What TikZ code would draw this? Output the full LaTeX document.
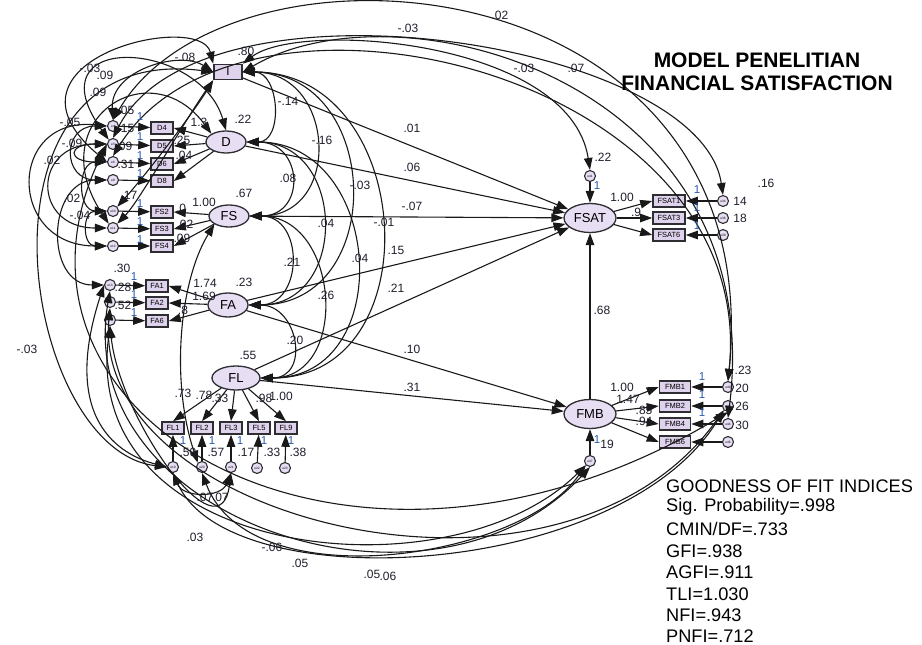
\documentclass[tikz,border=0pt]{standalone}
\usepackage{fontspec}
\setmainfont{Liberation Sans}
\usetikzlibrary{shapes.geometric,arrows.meta}
\definecolor{latfill}{RGB}{232,222,244}
\definecolor{obsfill}{RGB}{222,210,236}
\definecolor{labcol}{RGB}{30,30,45}
\definecolor{onecol}{RGB}{40,90,175}
\definecolor{framecol}{RGB}{45,45,50}
\tikzset{
  lat/.style={ellipse,draw=framecol,line width=1.3pt,fill=latfill,inner sep=0pt,font=\fontsize{13}{13}\selectfont},
  obs/.style={rectangle,draw=framecol,line width=1.6pt,fill=obsfill,inner sep=0pt,minimum width=22pt,minimum height=12pt,font=\fontsize{7.5}{7.5}\selectfont},
  err/.style={circle,draw=framecol,line width=1.1pt,fill=latfill,inner sep=0pt,minimum size=11pt,font=\fontsize{3.2}{3.2}\selectfont},
  tip/.tip={Triangle[length=12pt,width=8.5pt]},
  reg/.style={-tip,line width=1.1pt,draw=black!90},
  cov/.style={tip-tip,line width=1.1pt,draw=black!90},
  lab/.style={inner sep=0pt,text=labcol,font=\fontsize{12}{12}\selectfont},
  one/.style={inner sep=0pt,text=onecol,font=\fontsize{11.5}{11.5}\selectfont},
  gof/.style={inner sep=0pt,anchor=west,text=black,font=\fontsize{18.2}{18.2}\selectfont},
  ttl/.style={inner sep=0pt,text=black,font=\fontsize{21}{21}\selectfont\bfseries}
}
\begin{document}
\begin{tikzpicture}[x=1pt,y=-1pt]
\useasboundingbox (0,0) rectangle (922,645);
% ---------- latent / observed core nodes
\node[obs,minimum width=28pt,minimum height=15pt,font=\fontsize{11.5}{11.5}\selectfont] (I) at (228,72) {I};
\node[lat,minimum width=40pt,minimum height=22pt] (D) at (226,142) {D};
\node[lat,minimum width=40pt,minimum height=22pt] (FS) at (229,216) {FS};
\node[lat,minimum width=40pt,minimum height=24pt] (FA) at (228,305) {FA};
\node[lat,minimum width=48pt,minimum height=24pt] (FL) at (236,378) {FL};
\node[lat,minimum width=52pt,minimum height=29pt] (FSAT) at (590,218) {FSAT};
\node[lat,minimum width=52pt,minimum height=29pt] (FMB) at (590,414) {FMB};
% ---------- indicators
\node[obs] (D4) at (162,128) {D4};
\node[obs] (D5) at (162,146) {D5};
\node[obs] (D6) at (162,164) {D6};
\node[obs] (D8) at (162,181) {D8};
\node[obs] (FS2) at (162,212) {FS2};
\node[obs] (FS3) at (162,229) {FS3};
\node[obs] (FS4) at (162,246) {FS4};
\node[obs] (FA1) at (157,286) {FA1};
\node[obs] (FA2) at (157,303) {FA2};
\node[obs] (FA6) at (157,321) {FA6};
\node[obs] (FL1) at (173,428) {FL1};
\node[obs] (FL2) at (202,428) {FL2};
\node[obs] (FL3) at (231,428) {FL3};
\node[obs] (FL5) at (259,428) {FL5};
\node[obs] (FL9) at (286,428) {FL9};
\node[obs,minimum width=32pt] (FSAT1) at (669,201) {FSAT1};
\node[obs,minimum width=32pt] (FSAT3) at (669,218) {FSAT3};
\node[obs,minimum width=32pt] (FSAT6) at (669,235) {FSAT6};
\node[obs,minimum width=31pt] (FMB1) at (675,387) {FMB1};
\node[obs,minimum width=31pt] (FMB2) at (675,406) {FMB2};
\node[obs,minimum width=31pt] (FMB4) at (675,424) {FMB4};
\node[obs,minimum width=31pt] (FMB6) at (675,442) {FMB6};
% ---------- errors
\node[err] (eD4) at (113,126) {e4};
\node[err] (eD5) at (113,144) {e5};
\node[err] (eD6) at (113,162) {e6};
\node[err] (eD8) at (113,180) {e8};
\node[err] (eFS2) at (113,211) {e10};
\node[err] (eFS3) at (113,228) {e11};
\node[err] (eFS4) at (113,246) {e12};
\node[err] (eFA1) at (110,285) {e13};
\node[err] (eFA2) at (110,302) {e14};
\node[err] (eFA6) at (110,320) {e16};
\node[err] (eFL1) at (173,467) {e19};
\node[err] (eFL2) at (202,467) {e20};
\node[err] (eFL3) at (231,467) {e21};
\node[err] (eFL5) at (257,468) {e22};
\node[err] (eFL9) at (285,468) {e23};
\node[err] (eFSAT1) at (723,201) {e34};
\node[err] (eFSAT3) at (723,218) {e36};
\node[err] (eFSAT6) at (723,235) {e39};
\node[err] (eFMB1) at (728,387) {e40};
\node[err] (eFMB2) at (728,406) {e42};
\node[err] (eFMB4) at (728,424) {e44};
\node[err] (eFMB6) at (728,442) {e46};
\node[err] (zFSAT) at (590,176) {e41};
\node[err] (zFMB) at (590,461) {e47};
% ---------- structural paths
\draw[reg] (I) -- (FSAT);
\draw[reg] (D) -- (FSAT);
\draw[reg] (FS) -- (FSAT);
\draw[reg] (FA) -- (FSAT);
\draw[reg] (FL) -- (FSAT);
\draw[reg] (FA) -- (FMB);
\draw[reg] (FL) -- (FMB);
\draw[reg] (FMB) -- (FSAT);
\draw[reg] (zFSAT) -- (FSAT);
\draw[reg] (zFMB) -- (FMB);
% ---------- measurement paths
\foreach \ind in {D4,D5,D6,D8}{\draw[reg] (D) -- (\ind.east);}
\foreach \ind in {FS2,FS3,FS4}{\draw[reg] (FS) -- (\ind.east);}
\foreach \ind in {FA1,FA2,FA6}{\draw[reg] (FA) -- (\ind.east);}
\foreach \ind in {FL1,FL2,FL3,FL5,FL9}{\draw[reg] (FL) -- (\ind.north);}
\foreach \ind in {FSAT1,FSAT3,FSAT6}{\draw[reg] (FSAT) -- (\ind.west);}
\foreach \ind in {FMB1,FMB2,FMB4,FMB6}{\draw[reg] (FMB) -- (\ind.west);}
\foreach \ind in {D4,D5,D6,D8,FS2,FS3,FS4,FA1,FA2,FA6}{\draw[reg] (e\ind) -- (\ind);}
\foreach \ind in {FL1,FL2,FL3,FL5,FL9}{\draw[reg] (e\ind) -- (\ind);}
\foreach \ind in {FSAT1,FSAT3,FSAT6,FMB1,FMB2,FMB4,FMB6}{\draw[reg] (e\ind) -- (\ind);}
% ---------- covariances among exogenous variables
\draw[cov] (I.east) .. controls +(37,0) and +(37,0) .. (D.east);
\draw[cov] (I.east) .. controls +(93,0) and +(93,0) .. (FS.east);
\draw[cov] (I.east) .. controls +(140,0) and +(140,0) .. (FA.east);
\draw[cov] (I.east) .. controls +(173,0) and +(173,0) .. (FL.east);
\draw[cov] (D.east) .. controls +(57,0) and +(57,0) .. (FS.east);
\draw[cov] (D.east) .. controls +(100,0) and +(100,0) .. (FA.east);
\draw[cov] (D.east) .. controls +(137,0) and +(137,0) .. (FL.east);
\draw[cov] (FS.east) .. controls +(55,0) and +(55,0) .. (FA.east);
\draw[cov] (FS.east) .. controls +(90,0) and +(90,0) .. (FL.east);
\draw[cov] (FA.east) .. controls +(50,0) and +(50,0) .. (FL.east);
% ---------- error covariances (left cluster)
\draw[cov] (eD4.west) .. controls +(-45,0) and +(-45,0) .. (eD8.west);
\draw[cov] (eD5.west) .. controls +(-75,0) and +(-75,0) .. (eFS3.west);
\draw[cov] (eD4.west) .. controls +(-100,-10) and +(-100,0) .. (eFS4.west);
\draw[cov] (eD6.west) .. controls +(-30,0) and +(-30,0) .. (eFS2.west);
\draw[cov] (eFS2.west) .. controls +(-25,0) and +(-25,0) .. (eFS4.west);
\draw[cov] (eD8.west) .. controls +(-60,0) and +(-60,0) .. (eFA1.west);
\draw[cov] (eD5.west) .. controls +(-40,0) and +(-40,0) .. (eD6.west);
\draw[cov] (eD4.north) .. controls (110,70) and (180,50) .. (I.west);
\draw[cov] (eD5.north west) .. controls (30,30) and (200,40) .. (D.north);
\draw[cov] (eD6.west) .. controls (-15,60) and (200,10) .. (I.north west);
\draw[cov] (eFS3.north west) .. controls (40,120) and (150,50) .. (D.north west);
\draw[cov] (I.south west) .. controls (195,110) and (150,170) .. (eFS2.north east);
\draw[cov] (I.south west) .. controls (185,120) and (140,200) .. (eFS3.north east);
% ---------- error covariances (top arcs)
\draw[cov] (eD4.north) .. controls (230,-80) and (770,-40) .. (eFMB1.north);
\draw[cov] (eD5.north) .. controls (200,-35) and (700,40) .. (eFSAT1.north);
\draw[cov] (I.north east) .. controls (300,20) and (570,40) .. (zFSAT.north);
\draw[cov] (I.east) .. controls (400,-20) and (770,80) .. (eFMB4.north);
\draw[cov] (eD6.north) .. controls (240,-50) and (760,70) .. (eFMB1.north);
% ---------- error covariances (left and bottom arcs)
\draw[cov] (I.west) .. controls (-40,40) and (20,450) .. (eFL1.west);
\draw[cov] (eD5.west) .. controls (-30,420) and (350,640) .. (eFMB2.south);
\draw[cov] (eFA6.south) .. controls (80,560) and (450,600) .. (zFMB.south west);
\draw[cov] (eFL1.south) .. controls (230,600) and (620,580) .. (eFMB2.south west);
\draw[cov] (eFL2.south) .. controls (250,600) and (520,560) .. (zFMB.south west);
\draw[cov] (eFA1.south) .. controls (70,520) and (430,640) .. (zFMB.south);
\draw[cov] (eFA2.south) .. controls (90,520) and (560,640) .. (eFMB2.south west);
\draw[cov] (eFA6.south) .. controls (120,420) and (220,560) .. (eFL3.south);
\draw[cov] (eFL1.south) .. controls +(10,25) and +(-10,25) .. (eFL3.south);
\draw[cov] (eFA1.west) .. controls (60,420) and (120,455) .. (eFL1.west);
\draw[cov] (FS.south west) .. controls (180,280) and (170,380) .. (eFL2.north west);
% ---------- regression weights
\node[lab] at (412,128) {.01};
\node[lab] at (412,167) {.06};
\node[lab] at (412,206) {-.07};
\node[lab] at (396,250) {.15};
\node[lab] at (396,288) {.21};
\node[lab] at (412,349) {.10};
\node[lab] at (412,387) {.31};
\node[lab] at (602,310) {.68};
% ---------- covariances among exogenous
\node[lab] at (288,101) {-.14};
\node[lab] at (322,140) {-.16};
\node[lab] at (288,178) {.08};
\node[lab] at (360,185) {-.03};
\node[lab] at (326,223) {.04};
\node[lab] at (384,222) {-.01};
\node[lab] at (360,258) {.04};
\node[lab] at (292,262) {.21};
\node[lab] at (326,295) {.26};
\node[lab] at (295,340) {.20};
% ---------- arc labels
\node[lab] at (500,15) {.02};
\node[lab] at (408,28) {-.03};
\node[lab] at (524,68) {-.03};
\node[lab] at (576,68) {.07};
\node[lab] at (246,51) {.80};
\node[lab] at (185,57) {-.08};
\node[lab] at (90,68) {-.03};
\node[lab] at (105,75) {.09};
\node[lab] at (98,92) {.09};
\node[lab] at (70,122) {-.05};
\node[lab] at (72,143) {-.09};
\node[lab] at (52,160) {.02};
\node[lab] at (72,198) {.02};
\node[lab] at (80,215) {-.04};
\node[lab] at (27,349) {-.03};
\node[lab] at (195,537) {.03};
\node[lab] at (272,547) {-.06};
\node[lab] at (300,563) {.05};
\node[lab] at (372,574) {.05};
\node[lab] at (388,576) {.06};
\node[lab] at (205,497) {.07};
\node[lab] at (222,497) {07};
% ---------- variances
\node[lab] at (243,119) {.22};
\node[lab] at (244,193) {.67};
\node[lab] at (244,282) {.23};
\node[lab] at (248,355) {.55};
\node[lab] at (603,157) {.22};
\node[lab] at (766,183) {.16};
\node[lab] at (740,201) {14};
\node[lab] at (740,218) {18};
\node[lab] at (743,370) {.23};
\node[lab] at (742,388) {20};
\node[lab] at (742,406) {26};
\node[lab] at (742,425) {30};
\node[lab] at (607,444) {19};
\node[lab] at (126,110) {.05};
\node[lab] at (126,128) {.15};
\node[lab] at (124,146) {.09};
\node[lab] at (126,164) {.31};
\node[lab] at (129,195) {.17};
\node[lab] at (122,268) {.30};
\node[lab] at (123,287) {.28};
\node[lab] at (123,305) {.52};
\node[lab] at (188,452) {.59};
\node[lab] at (216,452) {.57};
\node[lab] at (246,452) {.17};
\node[lab] at (272,452) {.33};
\node[lab] at (298,452) {.38};
% ---------- loadings
\node[lab] at (199,122) {1.3};
\node[lab] at (182,140) {.25};
\node[lab] at (184,155) {.04};
\node[lab] at (204,202) {1.00};
\node[lab] at (181,208) {.0};
\node[lab] at (185,224) {.02};
\node[lab] at (182,238) {.09};
\node[lab] at (205,283) {1.74};
\node[lab] at (204,296) {1.69};
\node[lab] at (183,310) {.8};
\node[lab] at (183,393) {.73};
\node[lab] at (204,395) {.78};
\node[lab] at (220,398) {.33};
\node[lab] at (264,398) {.98};
\node[lab] at (281,396) {1.00};
\node[lab] at (622,197) {1.00};
\node[lab] at (636,212) {.9};
\node[lab] at (622,387) {1.00};
\node[lab] at (628,399) {1.47};
\node[lab] at (644,410) {.85};
\node[lab] at (644,421) {.94};
% ---------- fixed "1" weights
\foreach \p in {(140,117),(140,137),(140,156),(140,174),(140,204),(140,222),(140,240),(134,277),(134,295),(134,313)}{\node[one] at \p {1};}
\foreach \p in {(183,441),(212,441),(240,441),(264,441),(291,441)}{\node[one] at \p {1};}
\foreach \p in {(697,190),(697,208),(697,226),(702,377),(702,395),(702,413),(597,186),(597,440)}{\node[one] at \p {1};}
% ---------- title and fit indices
\node[ttl] at (757,60) {MODEL PENELITIAN};
\node[ttl] at (757,83) {FINANCIAL SATISFACTION};
\node[gof] at (666,486) {GOODNESS OF FIT INDICES};
\node[gof] at (666,507) {Sig. Probability=.998};
\node[gof] at (666,529) {CMIN/DF=.733};
\node[gof] at (666,551) {GFI=.938};
\node[gof] at (666,572) {AGFI=.911};
\node[gof] at (666,594) {TLI=1.030};
\node[gof] at (666,615) {NFI=.943};
\node[gof] at (666,636) {PNFI=.712};
\end{tikzpicture}
\end{document}
